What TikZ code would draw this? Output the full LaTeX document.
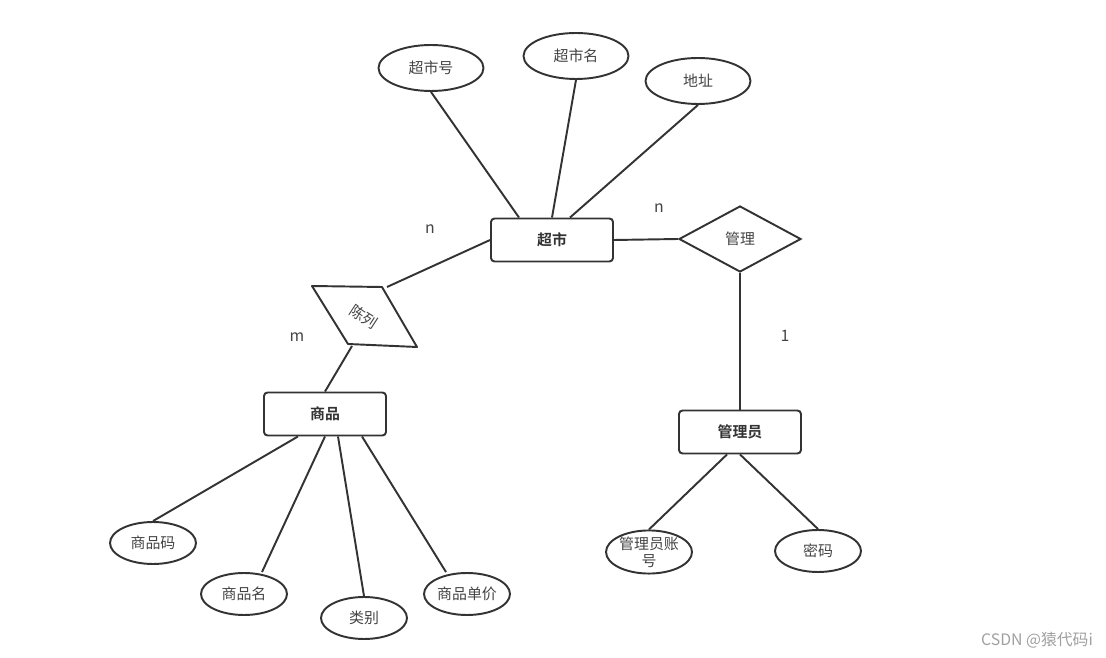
\documentclass[tikz,border=0pt]{standalone}
\usepackage{fontspec}
\setmainfont{Noto Sans CJK SC}[BoldFont={Noto Sans CJK SC Bold}]
\usepackage{xcolor}
\usetikzlibrary{shapes.geometric}

\definecolor{linegray}{HTML}{333333}
\definecolor{txtgray}{HTML}{444444}
\definecolor{markgray}{HTML}{A0A0A0}

\begin{document}
\begin{tikzpicture}[
  x=0.02cm, y=-0.02cm,
  font=\fontsize{8.5pt}{10pt}\selectfont,
  every node/.style={text=txtgray},
  attr/.style={draw=linegray, line width=1.1pt, ellipse, inner sep=0pt, minimum width=2.1cm, minimum height=0.92cm},
  sattr/.style={attr, minimum width=1.72cm, minimum height=0.84cm},
  ent/.style={draw=linegray, line width=1.1pt, rounded corners=2pt, minimum width=2.44cm, minimum height=0.86cm, text=linegray, font=\fontsize{8.5pt}{10pt}\selectfont\bfseries},
  rel/.style={draw=linegray, line width=1.1pt, diamond, inner sep=0pt, minimum width=2.44cm, minimum height=1.32cm},
  link/.style={draw=linegray, line width=1.1pt},
  card/.style={font=\fontsize{9pt}{10pt}\selectfont}
]
\useasboundingbox (0,0) rectangle (1106,658);

% entities
\node[ent] (cs) at (552,240) {超市};
\node[ent] (sp) at (325,414) {商品};
\node[ent] (gly) at (740,432) {管理员};

% relationships
\node[rel] (gl) at (740,239) {管理};
\coordinate (cl-a) at (312,286);
\coordinate (cl-b) at (382,287);
\coordinate (cl-c) at (417,347);
\coordinate (cl-d) at (348,344);
\draw[link, line join=round] (cl-a) -- (cl-b) -- (cl-c) -- (cl-d) -- cycle;
\node[rotate=-33, inner sep=0pt] (cl) at (364,317) {陈列};
\coordinate (cl-in) at (387,287);
\coordinate (cl-out) at (352,346);

% attributes
\node[attr] (csh) at (431,68) {超市号};
\node[attr] (csm) at (576,56) {超市名};
\node[attr] (dz) at (698,81) {地址};
\node[sattr] (spm) at (153,543) {商品码};
\node[sattr] (spn) at (244,594) {商品名};
\node[sattr] (lb) at (364,618) {类别};
\node[sattr] (spj) at (467,594) {商品单价};
\node[sattr, align=center, font=\fontsize{8.5pt}{9.5pt}\selectfont] (zh) at (649,552) {管理员账\\号};
\node[sattr] (mm) at (818,551) {密码};

% links
\draw[link] (csh.south) -- ([xshift=-0.66cm] cs.north);
\draw[link] (csm.south) -- (cs.north);
\draw[link] (dz.south) -- ([xshift=0.36cm] cs.north);
\draw[link] (cs.west) -- (cl-in);
\draw[link] (cl-out) -- (sp.north);
\draw[link] (cs.east) -- (gl.west);
\draw[link] (gl.south) -- (gly.north);
\draw[link] ([xshift=-0.54cm] sp.south) -- (spm.north);
\draw[link] (sp.south) -- ([xshift=0.36cm] spn.north);
\draw[link] ([xshift=0.26cm] sp.south) -- (lb.north);
\draw[link] ([xshift=0.74cm] sp.south) -- ([xshift=-0.42cm] spj.north);
\draw[link] ([xshift=-0.26cm] gly.south) -- (zh.north);
\draw[link] (gly.south) -- (mm.north);

% cardinalities
\node[card] (n1) at (430,229) {n};
\node[card] (n2) at (659,208) {n};
\node[card] (m1) at (297,337) {m};
\node[card] (o1) at (785,336) {1};

\node[text=markgray, font=\fontsize{9pt}{10pt}\selectfont] (wm) at (1037,640) {CSDN @猿代码i};
\end{tikzpicture}
\end{document}
